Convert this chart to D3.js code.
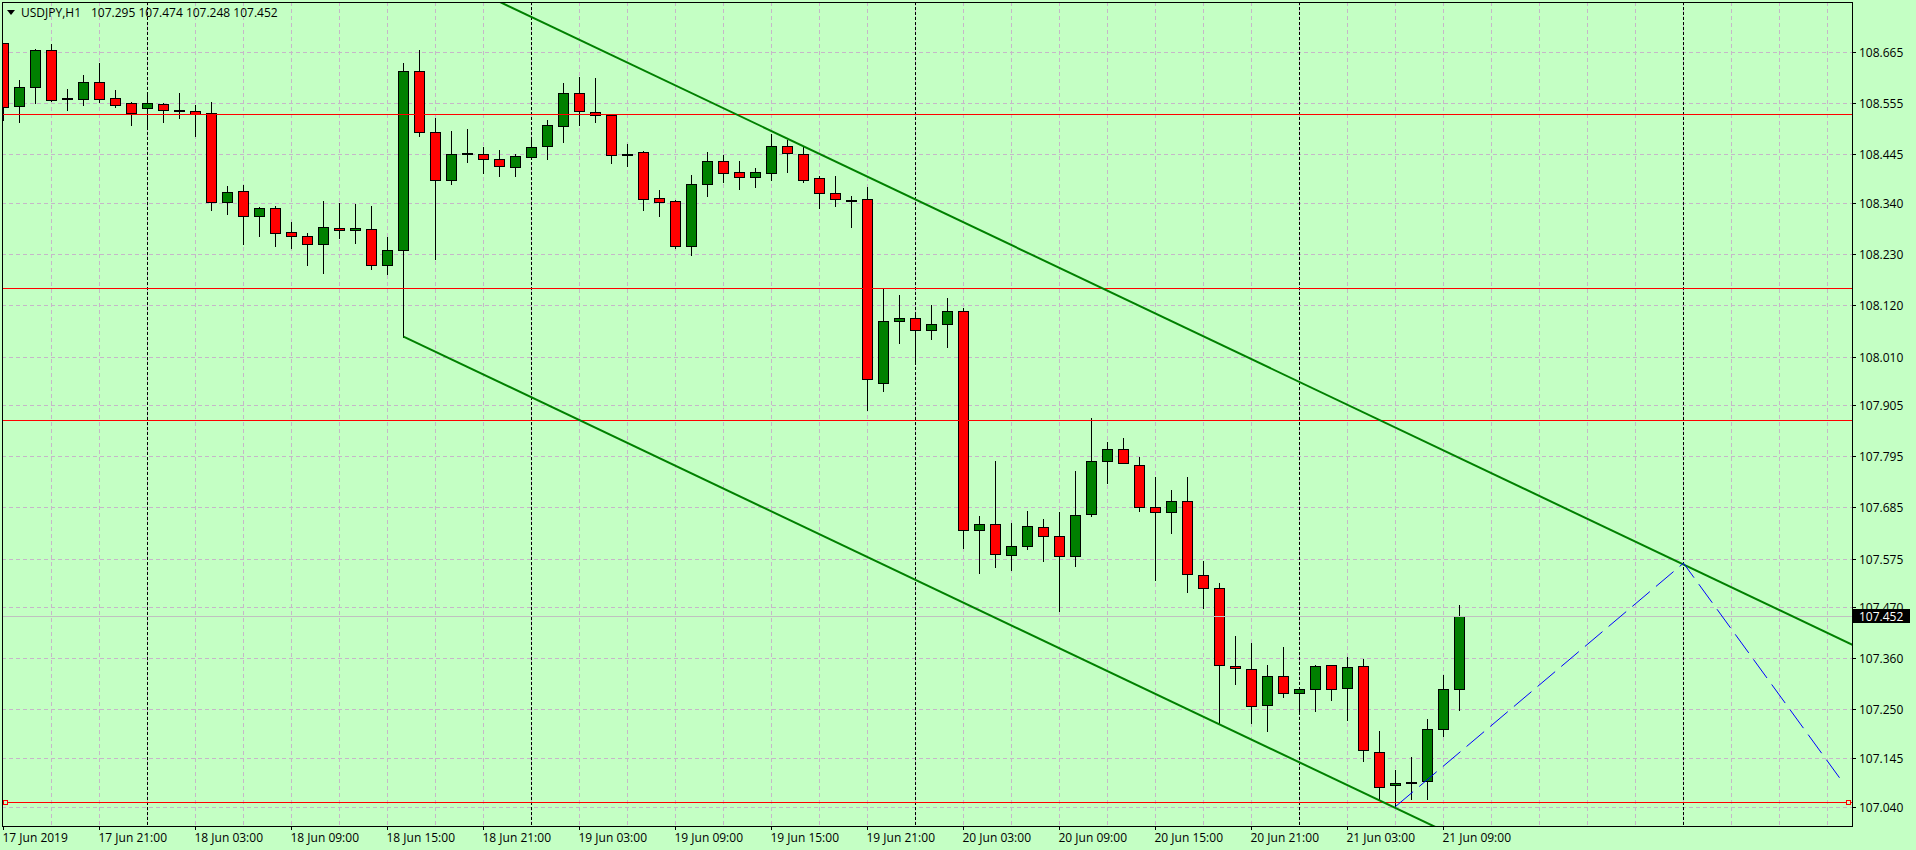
<!DOCTYPE html>
<html><head><meta charset="utf-8">
<script src="https://cdn.jsdelivr.net/npm/d3@7"></script>
<style>
html,body{margin:0;padding:0;background:#c4ffc4;overflow:hidden}
svg{display:block}
text{font-family:"Open Sans",sans-serif;font-size:12px;fill:#000}
</style></head><body>
<svg id="chart" width="1916" height="850"></svg>
<script>
// ---------------- data ----------------
const symbolTitle = "USDJPY,H1";
const titleValues = "107.295 107.474 107.248 107.452";
const firstBarTime = "2019-06-17T15:00:00Z";

const open = [
108.684,108.550,108.591,108.669,108.566,108.565,108.600,108.566,108.555,108.546,
108.553,108.541,108.538,108.534,108.342,108.366,108.313,108.329,108.277,108.269,
108.252,108.286,108.282,108.284,108.208,108.239,108.624,108.493,108.389,108.448,
108.447,108.435,108.417,108.439,108.463,108.506,108.577,108.536,108.531,108.446,
108.450,108.351,108.344,108.249,108.381,108.430,108.407,108.397,108.406,108.463,
108.447,108.394,108.363,108.348,108.349,107.954,108.086,108.092,108.066,108.079,
108.109,107.636,107.649,107.582,107.601,107.642,107.623,107.580,107.670,107.784,
107.810,107.776,107.685,107.675,107.698,107.539,107.511,107.344,107.337,107.259,
107.321,107.285,107.293,107.345,107.296,107.343,107.159,107.087,107.093,107.097,
107.209,107.295];
const high = [
108.686,108.605,108.673,108.683,108.587,108.616,108.643,108.584,108.559,108.579,
108.556,108.577,108.551,108.557,108.377,108.379,108.332,108.333,108.299,108.275,
108.345,108.341,108.338,108.334,108.267,108.641,108.671,108.524,108.496,108.500,
108.461,108.454,108.445,108.476,108.519,108.599,108.611,108.609,108.532,108.468,
108.452,108.368,108.346,108.401,108.450,108.444,108.430,108.415,108.489,108.476,
108.462,108.399,108.399,108.356,108.374,108.157,108.142,108.104,108.121,108.137,
108.114,107.666,107.786,107.651,107.677,107.660,107.675,107.763,107.878,107.826,
107.834,107.794,107.750,107.722,107.750,107.570,107.523,107.408,107.393,107.345,
107.384,107.294,107.346,107.346,107.364,107.359,107.204,107.119,107.148,107.229,
107.324,107.474];
const low = [
108.519,108.516,108.555,108.561,108.541,108.552,108.557,108.548,108.509,108.506,
108.516,108.524,108.485,108.325,108.317,108.252,108.269,108.249,108.244,108.207,
108.190,108.265,108.255,108.199,108.188,108.053,108.485,108.219,108.382,108.429,
108.406,108.399,108.399,108.436,108.435,108.472,108.509,108.514,108.427,108.421,
108.325,108.313,108.244,108.229,108.356,108.386,108.371,108.376,108.391,108.408,
108.386,108.330,108.333,108.289,107.895,107.936,108.040,107.993,108.048,108.031,
107.598,107.544,107.557,107.551,107.595,107.570,107.461,107.558,107.666,107.738,
107.780,107.677,107.529,107.631,107.504,107.469,107.220,107.305,107.221,107.204,
107.277,107.244,107.247,107.271,107.228,107.140,107.055,107.041,107.057,107.057,
107.193,107.248];
const close = [
108.548,108.591,108.671,108.563,108.565,108.600,108.565,108.551,108.535,108.555,
108.541,108.541,108.533,108.342,108.364,108.313,108.329,108.275,108.269,108.252,
108.288,108.282,108.286,108.206,108.239,108.624,108.493,108.389,108.447,108.449,
108.435,108.420,108.441,108.461,108.508,108.577,108.538,108.531,108.443,108.447,
108.350,108.342,108.249,108.381,108.430,108.406,108.397,108.407,108.463,108.449,
108.391,108.361,108.350,108.348,107.961,108.086,108.092,108.066,108.079,108.109,
107.636,107.649,107.584,107.601,107.644,107.623,107.580,107.668,107.784,107.810,
107.780,107.687,107.675,107.698,107.541,107.511,107.345,107.339,107.257,107.321,
107.285,107.293,107.343,107.293,107.341,107.162,107.084,107.091,107.094,107.209,
107.294,107.452];

const yTickValues = [108.665,108.555,108.445,108.340,108.230,108.120,108.010,107.905,
  107.795,107.685,107.575,107.470,107.360,107.250,107.145,107.040];

const xTickTimes = ["2019-06-17T15:00:00Z","2019-06-17T21:00:00Z","2019-06-18T03:00:00Z",
  "2019-06-18T09:00:00Z","2019-06-18T15:00:00Z","2019-06-18T21:00:00Z","2019-06-19T03:00:00Z",
  "2019-06-19T09:00:00Z","2019-06-19T15:00:00Z","2019-06-19T21:00:00Z","2019-06-20T03:00:00Z",
  "2019-06-20T09:00:00Z","2019-06-20T15:00:00Z","2019-06-20T21:00:00Z","2019-06-21T03:00:00Z",
  "2019-06-21T09:00:00Z"];
const xTickLabels = ["17 Jun 2019","17 Jun 21:00","18 Jun 03:00","18 Jun 09:00","18 Jun 15:00",
  "18 Jun 21:00","19 Jun 03:00","19 Jun 09:00","19 Jun 15:00","19 Jun 21:00","20 Jun 03:00",
  "20 Jun 09:00","20 Jun 15:00","20 Jun 21:00","21 Jun 03:00","21 Jun 09:00"];

const separatorTimes = ["2019-06-18T00:00:00Z","2019-06-19T00:00:00Z","2019-06-20T00:00:00Z",
  "2019-06-21T00:00:00Z","2019-06-22T00:00:00Z"];

const redLevels = [108.532, 108.157, 107.873, 107.050];
const markedLevel = 107.050;
const bidPrice = 107.452;

const channelTimes = ["2019-06-18T16:00:00Z", "2019-06-22T11:00:00Z"];
const channelUpper = [108.872, 107.382];
const channelLower = [108.053, 106.563];

const blueTimes = ["2019-06-21T06:00:00Z", "2019-06-22T00:00:00Z", "2019-06-22T09:45:00Z"];
const bluePrices = [107.041, 107.565, 107.103];

// ---------------- layout ----------------
const W = 1916, H = 850;
const plot = {left: 2, top: 2, right: 1852, bottom: 826};
const barSpacing = 16, bodyWidth = 10;
const colors = {bg: "#c4ffc4", grid: "#c6b6c8", bull: "#008000", bear: "#ff0000",
  level: "#ff0000", bid: "#c0c0c0", channel: "#008000", blue: "#0000ff"};

const t0 = new Date(firstBarTime);
const times = open.map((_, i) => d3.utcHour.offset(t0, i));
const x = d3.scaleUtc()
  .domain([times[0], times[times.length - 1]])
  .range([3.5, 3.5 + barSpacing * (times.length - 1)]);
const y = d3.scaleLinear()
  .domain([yTickValues[0], yTickValues[yTickValues.length - 1]])
  .range([52.3, 807]);
const sy = v => Math.round(y(v)) + 0.5;

const svg = d3.select("#chart");
svg.append("rect").attr("width", W).attr("height", H).attr("fill", colors.bg);

svg.append("defs").append("clipPath").attr("id", "clip")
  .append("rect").attr("x", plot.left + 1).attr("y", plot.top + 1)
  .attr("width", plot.right - plot.left - 1).attr("height", plot.bottom - plot.top - 1);

const g = svg.append("g").attr("clip-path", "url(#clip)");

// grid
const gridTimes = d3.utcHour.every(3).range(t0, x.invert(plot.right))
  .filter(t => x(t) > plot.left + 6);
g.append("g").selectAll("line").data(gridTimes).join("line")
  .attr("x1", d => x(d)).attr("x2", d => x(d))
  .attr("y1", plot.top).attr("y2", plot.bottom)
  .attr("stroke", colors.grid).attr("stroke-width", 1).attr("stroke-dasharray", "4,3");
g.append("g").selectAll("line").data(yTickValues).join("line")
  .attr("x1", plot.left).attr("x2", plot.right)
  .attr("y1", d => sy(d)).attr("y2", d => sy(d))
  .attr("stroke", colors.grid).attr("stroke-width", 1).attr("stroke-dasharray", "4,3");

// period separators
g.append("g").selectAll("line").data(separatorTimes.map(d => new Date(d))).join("line")
  .attr("x1", d => x(d)).attr("x2", d => x(d))
  .attr("y1", plot.top).attr("y2", plot.bottom)
  .attr("stroke", "#000").attr("stroke-width", 1).attr("stroke-dasharray", "3,2");

// candles
const bars = open.map((o, i) => ({t: times[i], o, h: high[i], l: low[i], c: close[i]}));
const cg = g.append("g");
cg.selectAll("line").data(bars).join("line")
  .attr("x1", d => x(d.t)).attr("x2", d => x(d.t))
  .attr("y1", d => Math.round(y(d.h))).attr("y2", d => Math.round(y(d.l)) + 1)
  .attr("stroke", "#000").attr("stroke-width", 1);
cg.selectAll("rect").data(bars).join("rect")
  .attr("x", d => x(d.t) - bodyWidth / 2)
  .attr("y", d => sy(Math.max(d.o, d.c)))
  .attr("width", bodyWidth)
  .attr("height", d => Math.max(1, sy(Math.min(d.o, d.c)) - sy(Math.max(d.o, d.c))))
  .attr("fill", d => d.c >= d.o ? colors.bull : colors.bear)
  .attr("stroke", "#000").attr("stroke-width", 1);

// horizontal levels
g.append("g").selectAll("line").data(redLevels).join("line")
  .attr("x1", plot.left).attr("x2", plot.right)
  .attr("y1", d => sy(d)).attr("y2", d => sy(d))
  .attr("stroke", colors.level).attr("stroke-width", 1);
g.append("line").attr("x1", plot.left).attr("x2", plot.right)
  .attr("y1", sy(bidPrice)).attr("y2", sy(bidPrice))
  .attr("stroke", colors.bid).attr("stroke-width", 1);

// selection markers on the marked level
g.append("g").selectAll("rect").data([plot.left + 1.5, plot.right - 5.5]).join("rect")
  .attr("x", d => d).attr("y", sy(markedLevel) - 2)
  .attr("width", 4).attr("height", 4)
  .attr("fill", colors.bg).attr("stroke", colors.level).attr("stroke-width", 1);

// channel
const chT = channelTimes.map(d => new Date(d));
[channelUpper, channelLower].forEach(pr => {
  g.append("line")
    .attr("x1", x(chT[0])).attr("y1", y(pr[0]))
    .attr("x2", x(chT[1])).attr("y2", y(pr[1]))
    .attr("stroke", colors.channel).attr("stroke-width", 2);
});

// blue dashed zigzag
const bluePts = blueTimes.map((t, i) => [x(new Date(t)), y(bluePrices[i])]);
g.append("path").attr("d", d3.line()(bluePts))
  .attr("fill", "none").attr("stroke", colors.blue).attr("stroke-width", 1)
  .attr("stroke-dasharray", "23,8");

// frame
svg.append("rect").attr("x", plot.left + 0.5).attr("y", plot.top + 0.5)
  .attr("width", plot.right - plot.left).attr("height", plot.bottom - plot.top)
  .attr("fill", "none").attr("stroke", "#000").attr("stroke-width", 1);

// y axis labels
const ya = svg.append("g");
ya.selectAll("line").data(yTickValues).join("line")
  .attr("x1", plot.right).attr("x2", plot.right + 4)
  .attr("y1", d => sy(d)).attr("y2", d => sy(d))
  .attr("stroke", "#000");
ya.selectAll("text").data(yTickValues).join("text")
  .attr("x", plot.right + 7).attr("y", d => Math.round(y(d)) + 5)
  .text(d => d3.format(".3f")(d));

// bid price box
const by = Math.round(y(bidPrice));
svg.append("rect").attr("x", plot.right + 1).attr("y", by - 7)
  .attr("width", 57).attr("height", 14).attr("fill", "#000");
svg.append("text").attr("x", plot.right + 7).attr("y", by + 5)
  .style("fill", "#fff").text(d3.format(".3f")(bidPrice));

// x axis labels
const xa = svg.append("g");
const xt = xTickTimes.map(d => new Date(d));
xa.selectAll("line").data(xt).join("line")
  .attr("x1", d => x(d)).attr("x2", d => x(d))
  .attr("y1", plot.bottom).attr("y2", plot.bottom + 4)
  .attr("stroke", "#000");
xa.selectAll("text").data(xt).join("text")
  .attr("x", d => x(d) - 1).attr("y", 842)
  .text((d, i) => xTickLabels[i]);

// title
svg.append("path").attr("d", "M7,10L15,10L11,15Z").attr("fill", "#000");
svg.append("text").attr("x", 21).attr("y", 17).text(symbolTitle);
svg.append("text").attr("x", 91).attr("y", 17).text(titleValues);
</script>
</body></html>
